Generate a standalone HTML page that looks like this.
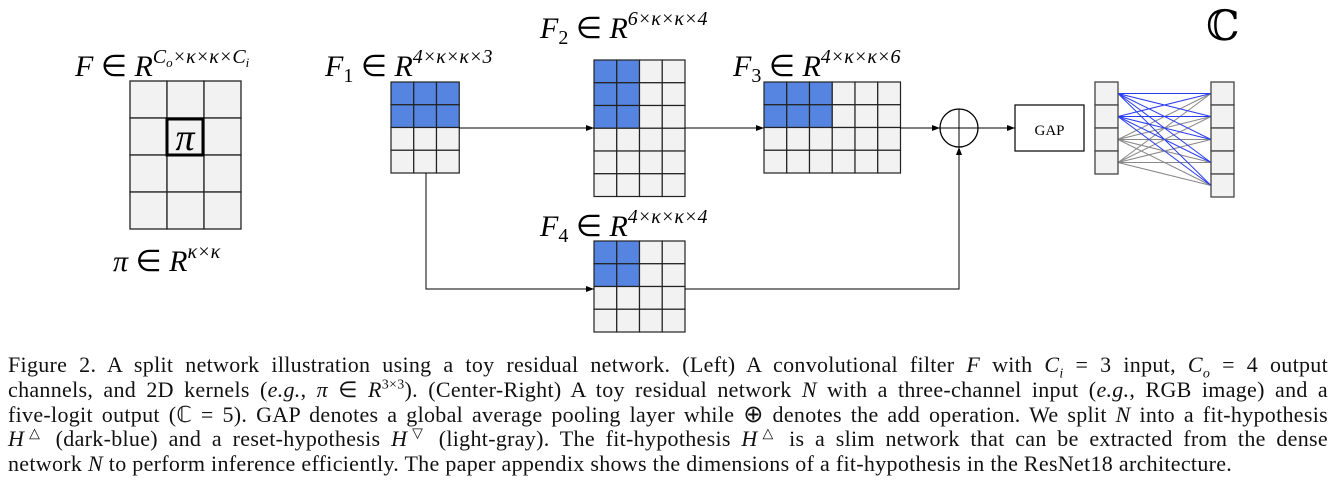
<!DOCTYPE html>
<html><head><meta charset="utf-8"><style>
body{margin:0;background:#fff;width:1336px;height:498px;overflow:hidden;position:relative}
svg{position:absolute;left:0;top:0}
.cap{position:absolute;left:8px;top:353px;width:1320px;font-family:"Liberation Serif",serif;font-size:22px;color:#111;letter-spacing:0.3px}
.cap div{height:24.8px;line-height:24.8px;overflow:visible;text-align:justify;text-align-last:justify;white-space:nowrap}
.cap div.l{text-align-last:left}
i{font-style:italic}
sup,sub{font-size:14px;line-height:0}
</style></head><body>
<svg width="1336" height="340" viewBox="0 0 1336 340" font-family="Liberation Serif, serif">
<defs><marker id="a" markerWidth="8" markerHeight="6" refX="8" refY="3" orient="auto" markerUnits="userSpaceOnUse"><path d="M0,0L8,3L0,6z" fill="#000"/></marker></defs>
<g stroke="#222" stroke-width="1.3">
<g fill="#f2f2f2">
<rect x="130" y="81" width="37" height="37"/><rect x="167" y="81" width="37" height="37"/><rect x="204" y="81" width="37" height="37"/>
<rect x="130" y="118" width="37" height="37"/><rect x="167" y="118" width="37" height="37"/><rect x="204" y="118" width="37" height="37"/>
<rect x="130" y="155" width="37" height="37"/><rect x="167" y="155" width="37" height="37"/><rect x="204" y="155" width="37" height="37"/>
<rect x="130" y="192" width="37" height="37"/><rect x="167" y="192" width="37" height="37"/><rect x="204" y="192" width="37" height="37"/>
</g>
<rect x="167" y="119" width="36" height="36" fill="none" stroke="#000" stroke-width="3"/>
</g>
<text x="185" y="150" font-size="38" font-style="italic" text-anchor="middle">π</text>
<g id="grids" stroke="#222" stroke-width="1.2"></g>
<g stroke="#000" stroke-width="1" fill="none">
<line x1="459" y1="128" x2="594" y2="128" marker-end="url(#a)"/>
<line x1="685" y1="128" x2="764" y2="128" marker-end="url(#a)"/>
<line x1="900" y1="128" x2="940" y2="128" marker-end="url(#a)"/>
<line x1="978" y1="128" x2="1015" y2="128" marker-end="url(#a)"/>
<polyline points="426,173 426,289 594,289" marker-end="url(#a)"/>
<polyline points="685,289 959,289 959,147" marker-end="url(#a)"/>
<circle cx="959" cy="128" r="19" stroke-width="1.3"/>
<line x1="940" y1="128" x2="978" y2="128"/><line x1="959" y1="109" x2="959" y2="147"/>
<rect x="1015" y="105" width="69" height="46" stroke-width="1.2"/>
</g>
<text x="1049.5" y="135" font-size="15" text-anchor="middle">GAP</text>
<g id="fc" stroke-width="1"></g>
<g font-size="30" font-style="italic">
<text x="75" y="76">F <tspan font-style="normal">∈</tspan> R<tspan font-size="20" dy="-13">C</tspan><tspan font-size="13" dy="4">o</tspan><tspan font-size="20" dy="-4">×κ×κ×C</tspan><tspan font-size="13" dy="4">i</tspan></text>
<text x="325" y="76">F<tspan font-size="20" dy="6" font-style="normal">1</tspan><tspan dy="-6" font-style="normal"> ∈ </tspan>R<tspan font-size="20" dy="-13">4×κ×κ×3</tspan></text>
<text x="540" y="38">F<tspan font-size="20" dy="6" font-style="normal">2</tspan><tspan dy="-6" font-style="normal"> ∈ </tspan>R<tspan font-size="20" dy="-13">6×κ×κ×4</tspan></text>
<text x="733" y="76">F<tspan font-size="20" dy="6" font-style="normal">3</tspan><tspan dy="-6" font-style="normal"> ∈ </tspan>R<tspan font-size="20" dy="-13">4×κ×κ×6</tspan></text>
<text x="540" y="236">F<tspan font-size="20" dy="6" font-style="normal">4</tspan><tspan dy="-6" font-style="normal"> ∈ </tspan>R<tspan font-size="20" dy="-13">4×κ×κ×4</tspan></text>
<text x="113" y="271">π <tspan font-style="normal">∈</tspan> R<tspan font-size="20" dy="-13">κ×κ</tspan></text>
</g>
<text x="1206" y="40" font-size="42" font-family="DejaVu Serif, serif">ℂ</text>
</svg>
<div class="cap">
<div>Figure 2. A split network illustration using a toy residual network. (Left) A convolutional filter <i>F</i> with <i>C<sub>i</sub></i> = 3 input, <i>C<sub>o</sub></i> = 4 output</div>
<div>channels, and 2D kernels (<i>e.g.</i>, <i>π</i> ∈ <i>R</i><sup>3×3</sup>). (Center-Right) A toy residual network <i>N</i> with a three-channel input (<i>e.g.</i>, RGB image) and a</div>
<div>five-logit output (ℂ = 5). GAP denotes a global average pooling layer while <span style="font-size:24px">⊕</span> denotes the add operation. We split <i>N</i> into a fit-hypothesis</div>
<div><i>H</i><sup>△</sup> (dark-blue) and a reset-hypothesis <i>H</i><sup>▽</sup> (light-gray). The fit-hypothesis <i>H</i><sup>△</sup> is a slim network that can be extracted from the dense</div>
<div class="l">network <i>N</i> to perform inference efficiently. The paper appendix shows the dimensions of a fit-hypothesis in the ResNet18 architecture.</div>
</div>
<script>
var ns="http://www.w3.org/2000/svg",g=document.getElementById("grids");
function grid(x,y,c,r,bc,br){var s=22.75;for(var j=0;j<r;j++)for(var i=0;i<c;i++){var e=document.createElementNS(ns,"rect");e.setAttribute("x",x+i*s);e.setAttribute("y",y+j*s);e.setAttribute("width",s);e.setAttribute("height",s);e.setAttribute("fill",(i<bc&&j<br)?"#5585e0":"#f2f2f2");g.appendChild(e);}}
grid(391,82,3,4,3,2);grid(594,60,4,6,2,3);grid(764,82,6,4,3,2);grid(594,241,4,4,2,2);
var f=document.getElementById("fc");
var L=[93.5,116.5,139.5,162.5],R=[93.5,116.5,139.5,162.5,185.5];
for(var a=3;a>=0;a--)for(var b=0;b<5;b++){var l=document.createElementNS(ns,"line");l.setAttribute("x1",1118);l.setAttribute("y1",L[a]);l.setAttribute("x2",1211);l.setAttribute("y2",R[b]);l.setAttribute("stroke",a<2?"#2a3cf0":"#888");f.appendChild(l);}
function col(x,y,n){for(var k=0;k<n;k++){var e=document.createElementNS(ns,"rect");e.setAttribute("x",x);e.setAttribute("y",y+k*23);e.setAttribute("width",23);e.setAttribute("height",23);e.setAttribute("fill","#f2f2f2");e.setAttribute("stroke","#444");e.setAttribute("stroke-width","1.3");f.appendChild(e);}}
col(1095,82,4);col(1211,82,5);
</script>
</body></html>
